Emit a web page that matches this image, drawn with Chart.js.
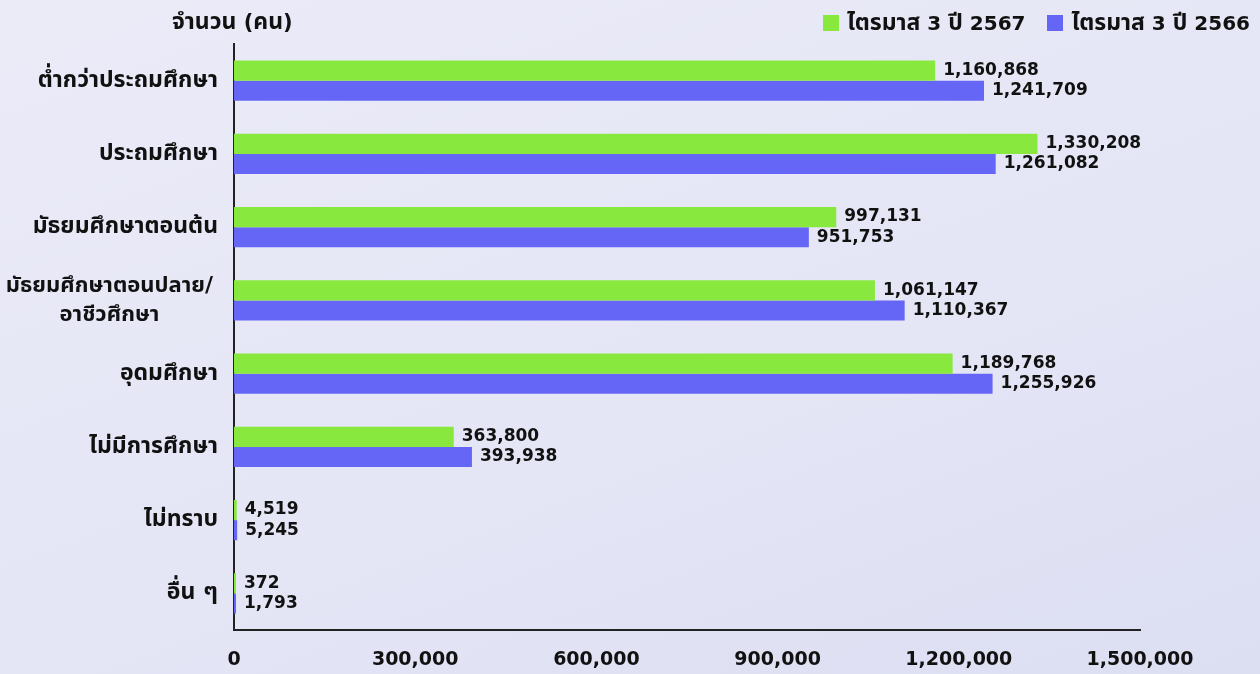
<!DOCTYPE html>
<html>
<head>
<meta charset="utf-8">
<script src="https://cdn.jsdelivr.net/npm/chart.js@4/dist/chart.umd.min.js"></script>
<style>
  html, body { margin: 0; padding: 0; }
  body {
    width: 1260px; height: 674px; overflow: hidden; position: relative;
    background: linear-gradient(160deg, #ebebf8 0%, #e4e5f5 60%, #dcdef2 100%);
    font-family: "DejaVu Sans", "Noto Sans Thai", "Noto Sans", sans-serif;
  }
  #wrap { position: absolute; left: 0; top: 0; width: 1260px; height: 674px; }
  .title { position: absolute; left: 172px; top: 5px; font-size: 21px; font-weight: bold; color: #111; }
  .title .th { font-size: 23px; }
  .legend { position: absolute; right: 10px; top: 6px; display: flex; gap: 22px; font-size: 20px; font-weight: bold; color: #111; }
  .legend .th { font-size: 23px; }
  .legend span.box { display: inline-block; width: 16px; height: 16px; margin-right: 8px; vertical-align: -1px; }
</style>
</head>
<body>
<div id="wrap"><canvas id="chart" width="1260" height="674"></canvas></div>
<div class="title"><span class="th">จำนวน</span> (<span class="th">คน</span>)</div>
<div class="legend">
  <div><span class="box" style="background:#88e83e"></span><span class="th">ไตรมาส</span> 3 <span class="th">ปี</span> 2567</div>
  <div><span class="box" style="background:#6666f6"></span><span class="th">ไตรมาส</span> 3 <span class="th">ปี</span> 2566</div>
</div>
<script>
// Data
const categories = [
  "ต่ำกว่าประถมศึกษา",
  "ประถมศึกษา",
  "มัธยมศึกษาตอนต้น",
  ["มัธยมศึกษาตอนปลาย/", "อาชีวศึกษา"],
  "อุดมศึกษา",
  "ไม่มีการศึกษา",
  "ไม่ทราบ",
  "อื่น ๆ"
];
const q3y2567 = [1160868, 1330208, 997131, 1061147, 1189768, 363800, 4519, 372];
const q3y2566 = [1241709, 1261082, 951753, 1110367, 1255926, 393938, 5245, 1793];
const xTicks = [0, 300000, 600000, 900000, 1200000, 1500000];

const fontFamily = '"DejaVu Sans", "Noto Sans Thai", "Noto Sans", sans-serif';

// value labels at bar ends
const valueLabels = {
  id: "valueLabels",
  afterDatasetsDraw(chart) {
    const ctx = chart.ctx;
    ctx.save();
    ctx.font = "bold 17px " + fontFamily;
    ctx.fillStyle = "#111";
    ctx.textAlign = "left";
    ctx.textBaseline = "middle";
    chart.data.datasets.forEach((ds, di) => {
      chart.getDatasetMeta(di).data.forEach((bar, i) => {
        ctx.fillText(ds.data[i].toLocaleString("en-US"), bar.x + 8, bar.y);
      });
    });
    ctx.restore();
  }
};

// category labels: right aligned, multi-line ones centred as a block
const categoryLabels = {
  id: "categoryLabels",
  afterDraw(chart) {
    const ctx = chart.ctx;
    const y = chart.scales.y;
    const right = y.right - 16;
    const lh = 29;
    ctx.save();
    ctx.fillStyle = "#111";
    ctx.textBaseline = "middle";
    categories.forEach((lab, i) => {
      const cy = y.getPixelForTick(i);
      if (Array.isArray(lab)) {
        ctx.font = "bold 22px " + fontFamily;
        const w = Math.max(...lab.map(t => ctx.measureText(t).width));
        const cx = right - 5 - w / 2;
        ctx.textAlign = "center";
        lab.forEach((t, k) => {
          ctx.fillText(t, cx, cy + (k - (lab.length - 1) / 2) * lh);
        });
      } else {
        ctx.font = "bold 23px " + fontFamily;
        ctx.textAlign = "right";
        ctx.fillText(lab, right, cy);
      }
    });
    ctx.restore();
  }
};

new Chart(document.getElementById("chart"), {
  type: "bar",
  data: {
    labels: categories,
    datasets: [
      { label: "ไตรมาส 3 ปี 2567", data: q3y2567, backgroundColor: "#88e83e" },
      { label: "ไตรมาส 3 ปี 2566", data: q3y2566, backgroundColor: "#6666f6" }
    ]
  },
  options: {
    indexAxis: "y",
    responsive: false,
    animation: false,
    layout: { padding: { top: 44, right: 120, left: 0, bottom: 0 } },
    plugins: { legend: { display: false }, tooltip: { enabled: false } },
    datasets: { bar: { categoryPercentage: 0.55, barPercentage: 1.0, minBarLength: 2 } },
    scales: {
      x: {
        min: 0, max: 1500000,
        afterBuildTicks: s => { s.ticks = xTicks.map(v => ({ value: v })); },
        afterFit: s => { s.height = 44; },
        grid: { display: false, drawTicks: false },
        border: { display: true, color: "#222", width: 2 },
        ticks: {
          padding: 19, color: "#111",
          font: { family: fontFamily, size: 19, weight: "bold" },
          callback: v => v.toLocaleString("en-US")
        }
      },
      y: {
        afterFit: s => { s.width = 234; },
        grid: { display: false, drawTicks: false },
        border: { display: true, color: "#222", width: 2 },
        ticks: { display: false }
      }
    }
  },
  plugins: [valueLabels, categoryLabels]
});
</script>
</body>
</html>
